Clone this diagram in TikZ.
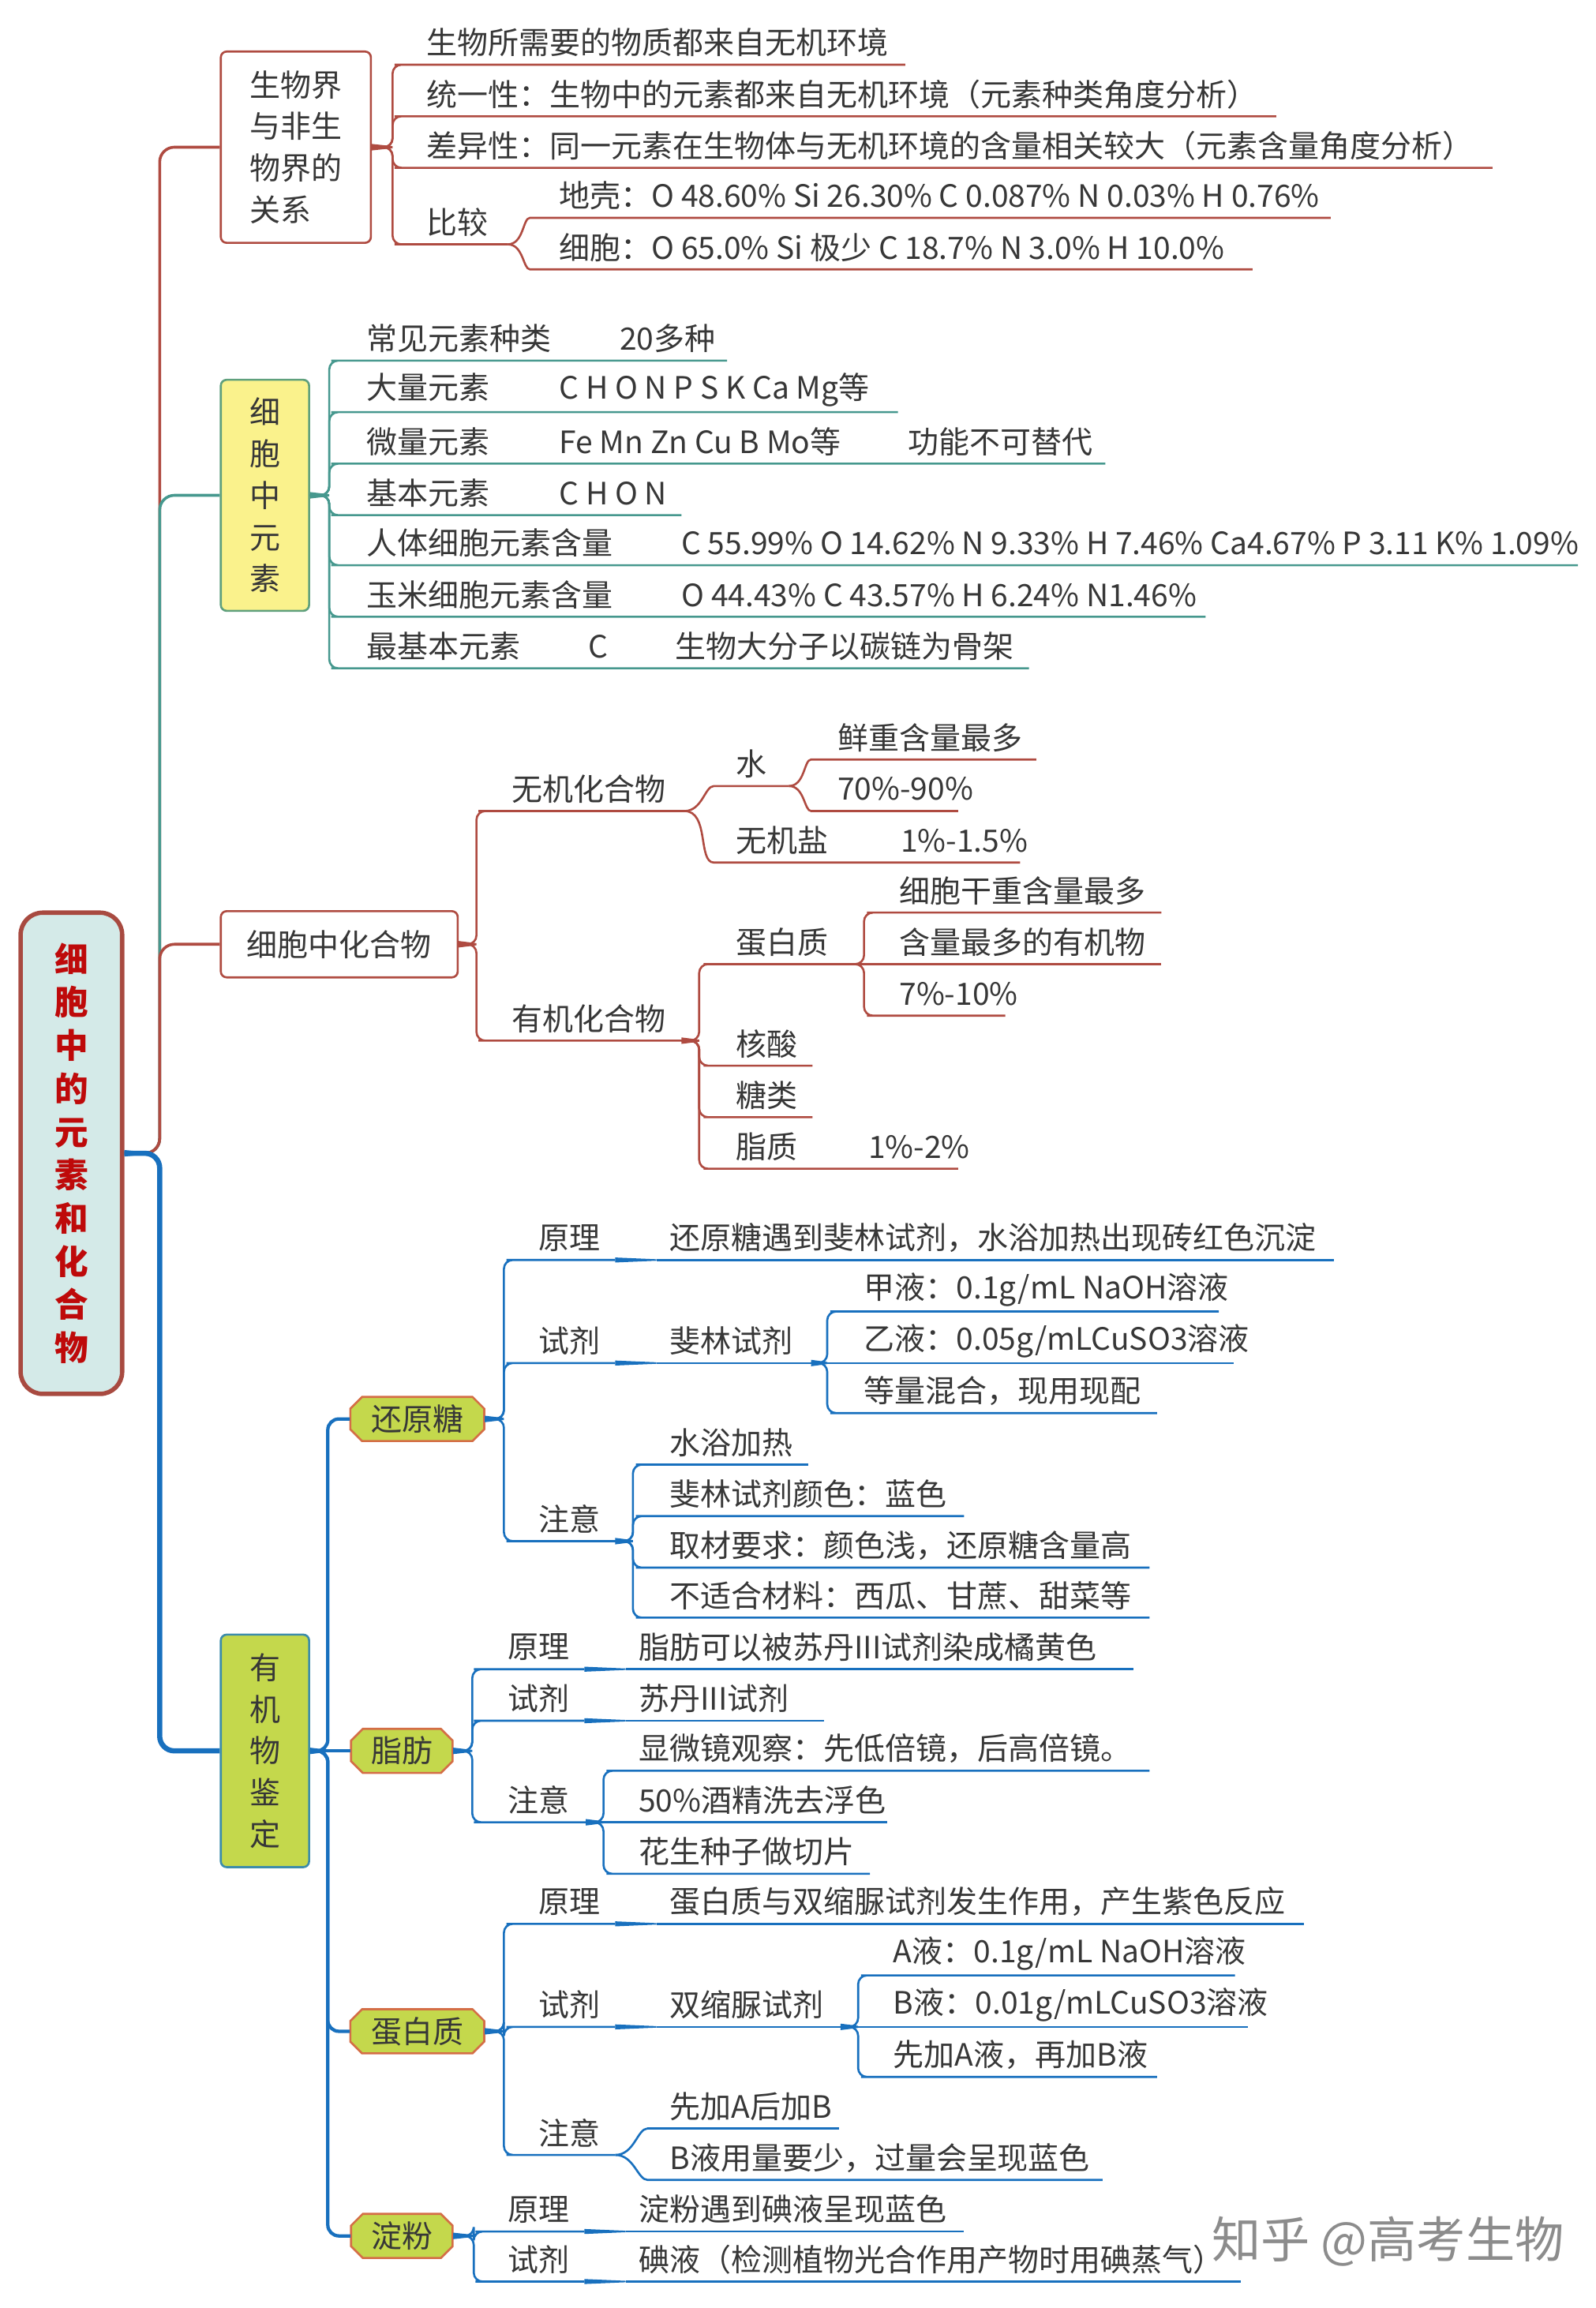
\documentclass[tikz,border=0pt]{standalone}
\usepackage{fontspec}
\setmainfont{Noto Sans CJK SC}
\usetikzlibrary{calc}
\newlength\mmu \setlength\mmu{0.02cm}
\definecolor{rd}{RGB}{175,75,65}
\definecolor{tl}{RGB}{70,152,142}
\definecolor{bl}{RGB}{24,112,190}
\definecolor{txt}{RGB}{55,55,55}
\definecolor{rootf}{RGB}{212,234,232}
\definecolor{rootb}{RGB}{168,74,64}
\definecolor{rootred}{RGB}{190,10,10}
\definecolor{ylf}{RGB}{250,242,140}
\definecolor{ylb}{RGB}{95,160,125}
\definecolor{lime}{RGB}{196,216,76}
\definecolor{limeb}{RGB}{60,140,170}
\definecolor{octb}{RGB}{212,110,70}
% leaf: name, x start, y underline, x end, x text, text
\newcommand\mmleaf[6]{\node[leaf] (#1) at (#2,#3) {\makebox[\numexpr#4-#2\relax\mmu][l]{\hspace*{\numexpr#5-#2\relax\mmu}#6}};}
\newcommand\mmtab[2]{\makebox[#1\mmu][l]{#2}}
\newcommand\mmcon[4][]{\draw[cn,#1] (#2) -- ++(#3,0) |- (#4.south west) -- (#4.south east);}
\newcommand\mmstraight[3][]{\draw[cn,#1] (#2) -- (#3.south west) -- (#3.south east);}
\newcommand\mmcurve[3][]{\draw[cn,#1] (#2) to[out=0,in=180] (#3.south west) -- (#3.south east);}
\newcommand\mmul[2][]{\draw[cn,#1] (#2.south west) -- (#2.south east);}
\newcommand\mmtaper[3][]{\fill[#1] ($(#2)+(0,1.7)$) -- ($(#3)+(0,0.5)$) -- ($(#3)+(0,-0.5)$) -- ($(#2)+(0,-1.7)$) -- cycle;}
\newcommand\mmstub[3][]{\fill[#1] ($(#2)+(0,2.2)$) -- ($(#2)+(#3,0.7)$) -- ($(#2)+(#3,-0.7)$) -- ($(#2)+(0,-2.2)$) -- cycle;}
\newcommand\mmocta[6]{%
 \draw[octo] ({#2-#4+8},{#3-#5}) -- ({#2+#4-8},{#3-#5}) -- ({#2+#4},{#3-#5+8}) -- ({#2+#4},{#3+#5-8}) -- ({#2+#4-8},{#3+#5}) -- ({#2-#4+8},{#3+#5}) -- ({#2-#4},{#3+#5-8}) -- ({#2-#4},{#3-#5+8}) -- cycle;
 \node[inner sep=0pt, minimum width={2*#4*\mmu}, minimum height={2*#5*\mmu}] (#1) at (#2,#3) {#6};}
\begin{document}
\begin{tikzpicture}[x=0.02cm,y=-0.02cm, font=\fontsize{11.9}{14}\selectfont, text=txt,
 leaf/.style={anchor=south west, inner sep=0pt, outer sep=0pt, minimum height=0.6cm},
 cn/.style={line width=0.8pt, rounded corners=0.12cm},
 trunk/.style={line width=1.1pt, rounded corners=0.2cm},
 vbox/.style={inner sep=0pt, align=center, font=\fontsize{11.9}{16.1}\selectfont},
 octo/.style={fill=lime, draw=octb, line width=0.8pt}]
\useasboundingbox (0,0) rectangle (1084,1568);

% ---------- main boxes ----------
\node[draw=rootb, fill=rootf, line width=1.7pt, rounded corners=0.3cm, minimum width=1.38cm, minimum height=6.54cm, inner sep=0pt, align=center, text=rootred, font=\bfseries\fontsize{13}{16.7}\selectfont] (root) at (48.5,783.5) {细\\胞\\中\\的\\元\\素\\和\\化\\合\\物};
\node[vbox, draw=rd, line width=0.8pt, rounded corners=0.08cm, fill=white, minimum width=2.04cm, minimum height=2.6cm, align=left] (box1) at (201,100) {生物界\\与非生\\物界的\\关系};
\node[vbox, draw=ylb, line width=0.8pt, rounded corners=0.08cm, fill=ylf, minimum width=1.2cm, minimum height=3.14cm] (box2) at (180,336.5) {细\\胞\\中\\元\\素};
\node[draw=rd, line width=0.8pt, rounded corners=0.08cm, fill=white, minimum width=3.22cm, minimum height=0.9cm, inner sep=0pt] (box3) at (230.5,641.5) {细胞中化合物};
\node[vbox, draw=limeb, line width=0.8pt, rounded corners=0.08cm, fill=lime, minimum width=1.2cm, minimum height=3.16cm] (box4) at (180,1189.5) {有\\机\\物\\鉴\\定};

% ---------- trunk ----------
\draw[trunk, rd] (root.east) -- ++(24,0) |- (box1.west);
\draw[trunk, tl] (root.east) -- ++(24,0) |- (box2.west);
\draw[trunk, rd] (root.east) -- ++(24,0) |- (box3.west);
\draw[trunk, bl, line width=2pt] (root.east) -- ++(24,0) |- (box4.west);
\mmstub[bl]{root.east}{16}

% ---------- branch 1 ----------
\mmleaf{b1a}{274}{44}{615}{290}{生物所需要的物质都来自无机环境}
\mmleaf{b1b}{274}{79}{867}{290}{统一性：生物中的元素都来自无机环境（元素种类角度分析）}
\mmleaf{b1c}{274}{114}{1014}{290}{差异性：同一元素在生物体与无机环境的含量相关较大（元素含量角度分析）}
\mmleaf{b1d}{274}{166}{345}{290}{比较}
\mmleaf{b1e}{366}{148}{904}{380}{地壳：O 48.60\% Si 26.30\% C 0.087\% N 0.03\% H 0.76\%}
\mmleaf{b1f}{366}{183}{851}{380}{细胞：O 65.0\% Si 极少 C 18.7\% N 3.0\% H 10.0\%}
\mmstub[rd]{box1.east}{14}
\mmcon[rd]{box1.east}{14}{b1a}
\mmcon[rd]{box1.east}{14}{b1b}
\mmcon[rd]{box1.east}{14}{b1c}
\mmcon[rd]{box1.east}{14}{b1d}
\mmcurve[rd]{b1d.south east}{b1e}
\mmcurve[rd]{b1d.south east}{b1f}

% ---------- branch 2 ----------
\mmleaf{b2a}{231}{245}{494}{249}{\mmtab{172}{常见元素种类}20多种}
\mmleaf{b2b}{231}{280}{610}{249}{\mmtab{131}{大量元素}C H O N P S K Ca Mg等}
\mmleaf{b2c}{231}{315}{751}{249}{\mmtab{131}{微量元素}\mmtab{237}{Fe Mn Zn Cu B Mo等}功能不可替代}
\mmleaf{b2d}{231}{350}{463}{249}{\mmtab{131}{基本元素}C H O N}
\mmleaf{b2e}{231}{384}{1072}{249}{\mmtab{214}{人体细胞元素含量}C 55.99\% O 14.62\% N 9.33\% H 7.46\% Ca4.67\% P 3.11 K\% 1.09\%}
\mmleaf{b2f}{231}{419}{819}{249}{\mmtab{214}{玉米细胞元素含量}O 44.43\% C 43.57\% H 6.24\% N1.46\%}
\mmleaf{b2g}{231}{454}{699}{249}{\mmtab{151}{最基本元素}\mmtab{59}{C}生物大分子以碳链为骨架}
\mmstub[tl]{box2.east}{13}
\foreach \n in {b2a,b2b,b2c,b2d,b2e,b2f,b2g} {\mmcon[tl]{box2.east}{13}{\n}}

% ---------- branch 3 ----------
\mmleaf{b3a}{331}{551}{465}{348}{无机化合物}
\mmleaf{b3b}{331}{707}{463}{348}{有机化合物}
\mmleaf{b3c}{491}{534}{536}{500}{水}
\mmleaf{b3d}{491}{586}{693}{500}{\mmtab{112}{无机盐}1\%-1.5\%}
\mmleaf{b3e}{557}{516}{704}{569}{鲜重含量最多}
\mmleaf{b3f}{557}{551}{651}{569}{70\%-90\%}
\mmleaf{b3g}{484}{655}{575}{500}{蛋白质}
\mmleaf{b3h}{484}{724}{552}{500}{核酸}
\mmleaf{b3i}{484}{759}{552}{500}{糖类}
\mmleaf{b3j}{484}{794}{651}{500}{\mmtab{90}{脂质}1\%-2\%}
\mmleaf{b3k}{595}{620}{789}{611}{细胞干重含量最多}
\mmleaf{b3l}{595}{655}{789}{611}{含量最多的有机物}
\mmleaf{b3m}{595}{690}{683}{611}{7\%-10\%}
\mmstub[rd]{box3.east}{12}
\mmcon[rd]{box3.east}{12}{b3a}
\mmcon[rd]{box3.east}{12}{b3b}
\mmcurve[rd]{b3a.south east}{b3c}
\mmcurve[rd]{b3a.south east}{b3d}
\mmcurve[rd]{b3c.south east}{b3e}
\mmcurve[rd]{b3c.south east}{b3f}
\mmstub[rd]{b3b.south east}{12}
\foreach \n in {b3g,b3h,b3i,b3j} {\mmcon[rd]{b3b.south east}{12}{\n}}
\mmcon[rd]{b3g.south east}{12}{b3k}
\mmstraight[rd]{b3g.south east}{b3l}
\mmcon[rd]{b3g.south east}{12}{b3m}

% ---------- branch 4 ----------
\mmocta{hy}{283.5}{964}{45.5}{15}{还原糖}
\mmocta{zf}{273}{1189.5}{34.5}{15}{脂肪}
\mmocta{db}{283.5}{1380}{45.5}{15}{蛋白质}
\mmocta{df}{273}{1519}{34.5}{15}{淀粉}
\draw[trunk, bl, line width=1.3pt, rounded corners=0.15cm] (box4.east) -- ++(12,0) |- (hy.west);
\draw[trunk, bl, line width=1.3pt] (box4.east) -- (zf.west);
\draw[trunk, bl, line width=1.3pt, rounded corners=0.15cm] (box4.east) -- ++(12,0) |- (db.west);
\draw[trunk, bl, line width=1.3pt, rounded corners=0.15cm] (box4.east) -- ++(12,0) |- (df.west);
\mmstub[bl]{box4.east}{12}

% 还原糖
\mmleaf{h1}{350}{856}{418}{366}{原理}
\mmleaf{h1t}{446}{856}{906}{455}{还原糖遇到斐林试剂，水浴加热出现砖红色沉淀}
\mmleaf{h2}{350}{926}{418}{366}{试剂}
\mmleaf{h2t}{446}{926}{551}{455}{斐林试剂}
\mmleaf{h2a}{570}{891}{828}{587}{甲液：0.1g/mL NaOH溶液}
\mmleaf{h2b}{570}{926}{838}{587}{乙液：0.05g/mLCuSO3溶液}
\mmleaf{h2c}{570}{960}{786}{587}{等量混合，现用现配}
\mmleaf{h3}{350}{1047}{418}{366}{注意}
\mmleaf{h3a}{438}{995}{549}{455}{水浴加热}
\mmleaf{h3b}{438}{1030}{655}{455}{斐林试剂颜色：蓝色}
\mmleaf{h3c}{438}{1065}{781}{455}{取材要求：颜色浅，还原糖含量高}
\mmleaf{h3d}{438}{1099}{781}{455}{不适合材料：西瓜、甘蔗、甜菜等}
\mmstub[bl]{hy.east}{13}
\foreach \n in {h1,h2,h3} {\mmcon[bl]{hy.east}{13}{\n}}
\mmtaper[bl]{h1.south east}{h1t.south west} \mmul[bl]{h1t}
\mmtaper[bl]{h2.south east}{h2t.south west} \mmul[bl]{h2t}
\mmstub[bl]{h2t.south east}{11}
\mmcon[bl]{h2t.south east}{11}{h2a}
\mmstraight[bl]{h2t.south east}{h2b}
\mmcon[bl]{h2t.south east}{11}{h2c}
\mmstub[bl]{h3.south east}{12}
\foreach \n in {h3a,h3b,h3c,h3d} {\mmcon[bl]{h3.south east}{12}{\n}}

% 脂肪
\mmleaf{z1}{328}{1134}{397}{345}{原理}
\mmleaf{z1t}{425}{1134}{770}{434}{脂肪可以被苏丹III试剂染成橘黄色}
\mmleaf{z2}{328}{1169}{397}{345}{试剂}
\mmleaf{z2t}{425}{1169}{560}{434}{苏丹III试剂}
\mmleaf{z3}{328}{1238}{398}{345}{注意}
\mmleaf{z3a}{418}{1203}{781}{434}{显微镜观察：先低倍镜，后高倍镜。}
\mmleaf{z3b}{418}{1238}{603}{434}{50\%酒精洗去浮色}
\mmleaf{z3c}{418}{1273}{591}{434}{花生种子做切片}
\mmstub[bl]{zf.east}{13}
\foreach \n in {z1,z2,z3} {\mmcon[bl]{zf.east}{13}{\n}}
\mmtaper[bl]{z1.south east}{z1t.south west} \mmul[bl]{z1t}
\mmtaper[bl]{z2.south east}{z2t.south west} \mmul[bl]{z2t}
\mmstub[bl]{z3.south east}{12}
\mmcon[bl]{z3.south east}{12}{z3a}
\mmstraight[bl]{z3.south east}{z3b}
\mmcon[bl]{z3.south east}{12}{z3c}

% 蛋白质
\mmleaf{d1}{350}{1307}{418}{366}{原理}
\mmleaf{d1t}{446}{1307}{886}{455}{蛋白质与双缩脲试剂发生作用，产生紫色反应}
\mmleaf{d2}{350}{1377}{418}{366}{试剂}
\mmleaf{d2t}{446}{1377}{571}{455}{双缩脲试剂}
\mmleaf{d2a}{591}{1342}{839}{607}{A液：0.1g/mL NaOH溶液}
\mmleaf{d2b}{591}{1377}{848}{607}{B液：0.01g/mLCuSO3溶液}
\mmleaf{d2c}{591}{1411}{786}{607}{先加A液，再加B液}
\mmleaf{d3}{350}{1464}{418}{366}{注意}
\mmleaf{d3a}{446}{1446}{570}{455}{先加A后加B}
\mmleaf{d3b}{446}{1481}{749}{455}{B液用量要少，过量会呈现蓝色}
\mmstub[bl]{db.east}{13}
\foreach \n in {d1,d2,d3} {\mmcon[bl]{db.east}{13}{\n}}
\mmtaper[bl]{d1.south east}{d1t.south west} \mmul[bl]{d1t}
\mmtaper[bl]{d2.south east}{d2t.south west} \mmul[bl]{d2t}
\mmstub[bl]{d2t.south east}{12}
\mmcon[bl]{d2t.south east}{12}{d2a}
\mmstraight[bl]{d2t.south east}{d2b}
\mmcon[bl]{d2t.south east}{12}{d2c}
\mmcurve[bl]{d3.south east}{d3a}
\mmcurve[bl]{d3.south east}{d3b}

% 淀粉
\mmleaf{f1}{329}{1516}{397}{345}{原理}
\mmleaf{f1t}{425}{1516}{655}{434}{淀粉遇到碘液呈现蓝色}
\mmleaf{f2}{329}{1550}{397}{345}{试剂}
\mmleaf{f2t}{425}{1550}{843}{434}{碘液（检测植物光合作用产物时用碘蒸气）}
\mmstub[bl]{df.east}{14}
\mmcon[bl]{df.east}{14}{f1}
\mmcon[bl]{df.east}{14}{f2}
\mmtaper[bl]{f1.south east}{f1t.south west} \mmul[bl]{f1t}
\mmtaper[bl]{f2.south east}{f2t.south west} \mmul[bl]{f2t}

% watermark
\node[anchor=west, inner sep=0pt, text=black!45, font=\fontsize{19}{20}\selectfont] (wm) at (823,1523) {知乎 @高考生物};
\end{tikzpicture}
\end{document}
